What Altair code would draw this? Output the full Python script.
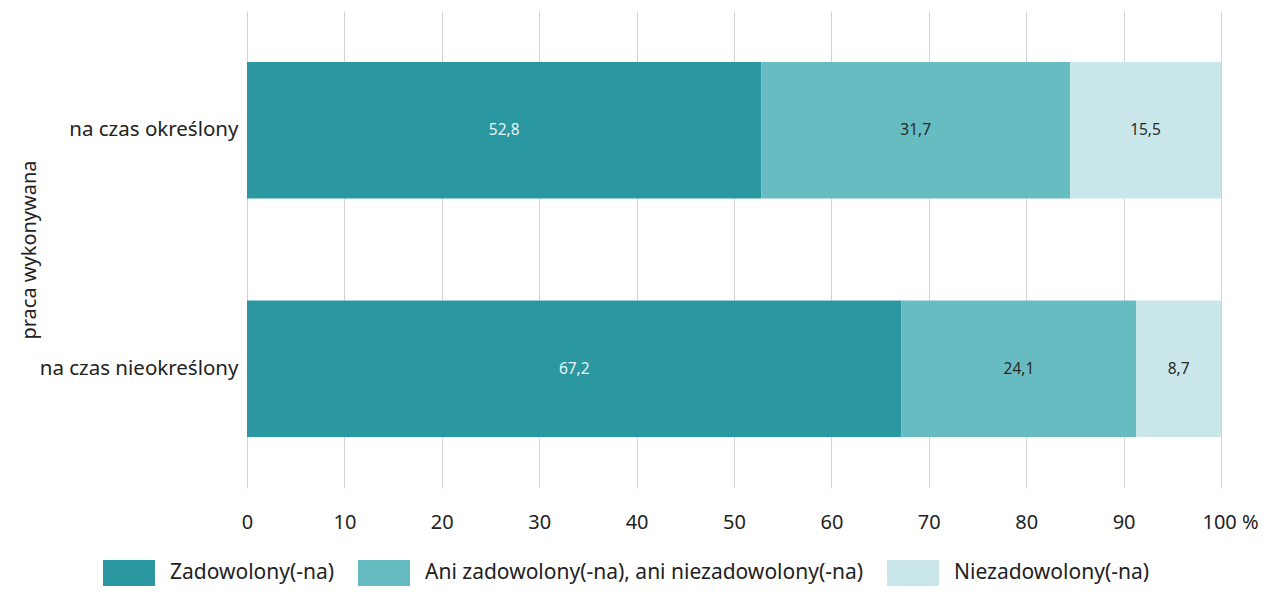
import altair as alt
import pandas as pd

categories = ["na czas określony", "na czas nieokreślony"]
series = ["Zadowolony(-na)", "Ani zadowolony(-na), ani niezadowolony(-na)", "Niezadowolony(-na)"]
zadowolony = [52.8, 67.2]
ani = [31.7, 24.1]
niezadowolony = [15.5, 8.7]
colors = ["#2b97a1", "#67bcc2", "#c9e7ea"]
label_colors = ["#e6f4f5", "#2a2a2a", "#2a2a2a"]

rows = []
for i, cat in enumerate(categories):
    for j, (s, vals) in enumerate(zip(series, [zadowolony, ani, niezadowolony])):
        rows.append({"kat": cat, "seria": s, "wartosc": vals[i], "ord": j,
                     "etykieta": f"{vals[i]:.1f}".replace(".", ","),
                     "kolor": label_colors[j]})
df = pd.DataFrame(rows)

FONT = "Noto Sans"

base = alt.Chart(df).transform_stack(
    stack="wartosc", groupby=["kat"], as_=["x0", "x1"],
    sort=[alt.SortField("ord", order="ascending")]
).transform_calculate(mid="(datum.x0 + datum.x1) / 2")

yenc = alt.Y("kat:N", sort=categories, title="praca wykonywana",
             scale=alt.Scale(paddingInner=0.427, paddingOuter=0.2135),
             axis=alt.Axis(domain=False, ticks=False, labelFontSize=20.5, labelColor="#222222",
                           labelPadding=9, labelFont=FONT, titleFont=FONT, titleFontSize=20,
                           titleFontWeight="normal", titleColor="#222222", titlePadding=8,
                           grid=False, labelLimit=400))

bars = base.mark_bar().encode(
    x=alt.X("x0:Q", scale=alt.Scale(domain=[0, 100], nice=False), title=None,
            axis=alt.Axis(values=list(range(0, 101, 10)), domain=False, ticks=False,
                          labelFontSize=20, labelFont=FONT, labelColor="#222222", labelPadding=24,
                          gridColor="#d4d4d4", gridWidth=1, labelFlush=False,
                          labelOffset=alt.condition("datum.value == 100", alt.value(9), alt.value(0)),
                          labelExpr="datum.value == 100 ? '100 %' : datum.label")),
    x2="x1:Q",
    y=yenc,
    color=alt.Color("seria:N", sort=series, scale=alt.Scale(domain=series, range=colors),
                    legend=alt.Legend(title=None, orient="none", direction="horizontal",
                                      legendX=-144, legendY=536,
                                      symbolType="M-1,-0.5H1V0.5H-1Z", symbolSize=2704,
                                      symbolStrokeWidth=0, symbolOpacity=1,
                                      labelFontSize=21, labelFont=FONT, labelColor="#222222",
                                      labelOffset=15, columnPadding=23, symbolLimit=0,
                                      labelLimit=600)),
    order=alt.Order("ord:Q"),
)

texts = base.mark_text(fontSize=15.5, font=FONT).encode(
    x=alt.X("mid:Q"),
    y=alt.Y("kat:N", sort=categories),
    text="etykieta:N",
    color=alt.Color("kolor:N", scale=None),
)

chart = alt.layer(bars, texts).properties(
    width=974, height=477,
    autosize=alt.AutoSizeParams(type="none"),
    padding={"left": 239, "top": 3, "right": 37, "bottom": 98},
).configure_view(stroke=None).configure_axis(gridColor="#d4d4d4")

chart.save("out.html", embed_options={"renderer": "svg", "actions": False})
